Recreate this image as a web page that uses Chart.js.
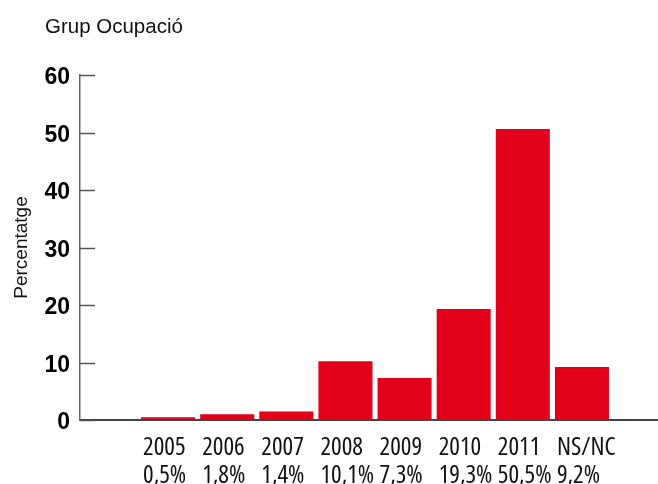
<!DOCTYPE html>
<html>
<head>
<meta charset="utf-8">
<script src="https://cdn.jsdelivr.net/npm/chart.js@4/dist/chart.umd.min.js"></script>
<style>
  body { margin: 0; background: #fff; }
  #wrap { position: relative; width: 658px; height: 484px; }
  #title { position: absolute; left: 45px; top: 15px; font: 20.5px 'Liberation Sans', Arial, sans-serif; line-height: 22px; color: #111; }
</style>
</head>
<body>
<div id="wrap">
  <div id="title">Grup Ocupació</div>
  <canvas id="chart" width="658" height="484"></canvas>
</div>
<script>
const years = ['2005', '2006', '2007', '2008', '2009', '2010', '2011', 'NS/NC'];
const pctLabels = ['0,5%', '1,8%', '1,4%', '10,1%', '7,3%', '19,3%', '50,5%', '9,2%'];
// bar heights as drawn
const values = [0.5, 1.0, 1.5, 10.2, 7.3, 19.3, 50.6, 9.2];
const yTicks = [0, 10, 20, 30, 40, 50, 60];

const barColor = '#e2001a';

// short tick marks drawn inward from the y axis
const innerTicks = {
  id: 'innerTicks',
  afterDatasetsDraw(chart) {
    const y = chart.scales.y;
    const ctx = chart.ctx;
    ctx.save();
    ctx.strokeStyle = '#555';
    ctx.lineWidth = 1.5;
    yTicks.forEach(v => {
      const py = Math.round(y.getPixelForValue(v)) + 0.5;
      ctx.beginPath();
      ctx.moveTo(chart.chartArea.left, py);
      ctx.lineTo(chart.chartArea.left + 15, py);
      ctx.stroke();
    });
    ctx.restore();
  }
};

const chart = new Chart(document.getElementById('chart'), {
  type: 'bar',
  data: {
    datasets: [{
      data: values.map((v, i) => ({ x: i, y: v })),
      backgroundColor: barColor,
      borderWidth: 0,
      barPercentage: 0.914,
      categoryPercentage: 1
    }]
  },
  options: {
    responsive: false,
    animation: false,
    layout: { padding: { top: 75, right: 1, left: 0, bottom: 0 } },
    plugins: {
      legend: { display: false },
      tooltip: { enabled: false }
    },
    scales: {
      x: {
        type: 'linear',
        offset: false,
        min: -1.49,
        max: 8.27,
        afterBuildTicks: (scale) => { scale.ticks = years.map((_, i) => ({ value: i })); },
        afterFit: (scale) => { scale.height = 64; },
        grid: { display: false },
        border: { color: '#444', width: 2 },
        ticks: {
          autoSkip: false,
          maxRotation: 0,
          align: 'start',
          labelOffset: -25,
          padding: 6,
          color: '#111',
          font: { family: "'Open Sans', sans-serif", weight: '500 condensed', size: 25, lineHeight: 1.12 },
          callback: (v, i) => [years[i], pctLabels[i]]
        }
      },
      y: {
        min: 0,
        max: 60,
        afterBuildTicks: (scale) => { scale.ticks = yTicks.map(v => ({ value: v })); },
        afterFit: (scale) => { scale.width = 80; },
        grid: { display: false, drawTicks: false },
        border: { color: '#666', width: 1.5 },
        title: {
          display: true,
          text: 'Percentatge',
          color: '#111',
          font: { family: "'Liberation Sans', Arial, sans-serif", size: 19 },
          padding: { top: 10, bottom: 0 }
        },
        ticks: {
          padding: 10,
          labelOffset: 3,
          color: '#000',
          font: { family: "'Liberation Sans', Arial, sans-serif", size: 23, weight: 'bold' }
        }
      }
    }
  },
  plugins: [innerTicks]
});
</script>
</body>
</html>
